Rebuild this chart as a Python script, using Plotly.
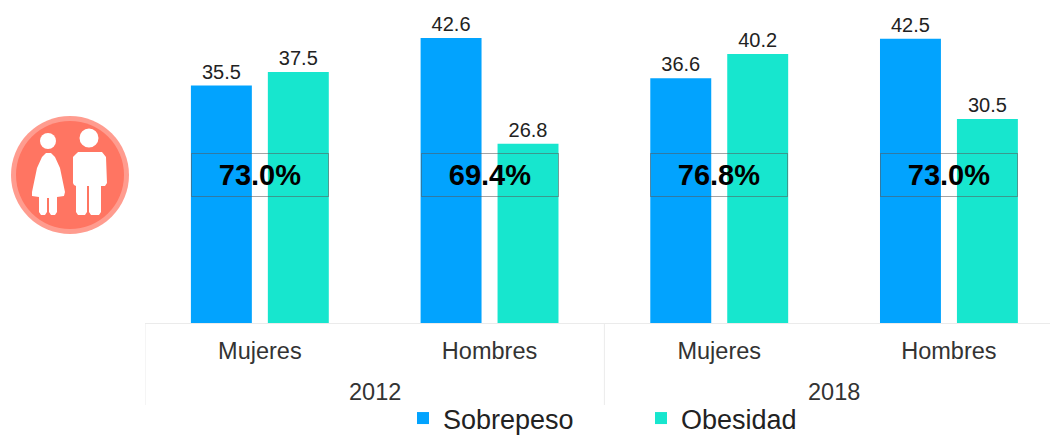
import plotly.graph_objects as go

W, H = 1050, 436

years = ["2012", "2012", "2018", "2018"]
sexes = ["Mujeres", "Hombres", "Mujeres", "Hombres"]
sobrepeso = [35.5, 42.6, 36.6, 42.5]
obesidad = [37.5, 26.8, 40.2, 30.5]
combined = ["73.0%", "69.4%", "76.8%", "73.0%"]

BLUE = "#02A3FE"
TEAL = "#17E6CE"
FONT = "Liberation Sans"
RULE = "#EBEBEB"


def px(x):
    return x / W


def py(y):
    return 1 - y / H


def path(points):
    return "M" + "L".join(f"{px(x):.5f},{py(y):.5f}" for x, y in points) + "Z"


def disc(cx, cy, r, color):
    return dict(type="circle", xref="paper", yref="paper", layer="above", line_width=0,
                fillcolor=color, x0=px(cx - r), x1=px(cx + r), y0=py(cy + r), y1=py(cy - r))


def outline(points, color="white"):
    return dict(type="path", xref="paper", yref="paper", layer="above", line_width=0,
                fillcolor=color, path=path(points))


def divider(position):
    return dict(type="line", xref="x", yref="paper", x0=position, x1=position,
                y0=py(405), y1=py(323), line=dict(color=RULE, width=1))


# Pictogram of a girl and a boy on a coral badge
girl = [(42, 157), (46, 153), (51, 153), (55, 157), (60, 168), (65, 192), (64, 196),
        (57, 197), (57, 212), (55, 215), (51, 215), (49, 212), (49, 198), (47, 198),
        (47, 212), (45, 215), (41, 215), (39, 212), (39, 197), (32, 196), (32, 192),
        (37, 168)]
boy = [(78, 152), (102, 152), (106, 157), (107, 183), (105, 186), (101, 186), (101, 212),
       (99, 215), (91, 215), (89, 212), (89, 186), (87, 186), (87, 212), (85, 215),
       (78, 215), (76, 212), (76, 186), (74, 185), (73, 183), (73, 157)]
icon = [
    disc(70, 175, 59, "#FF9C8F"),
    disc(70, 175, 54, "#FF7562"),
    disc(48, 141, 8, "white"),
    disc(89, 138, 9.5, "white"),
    outline(girl),
    outline(boy),
]

positions = list(range(len(sexes)))
fig = go.Figure()
for name, values, color in [("Sobrepeso", sobrepeso, BLUE), ("Obesidad", obesidad, TEAL)]:
    fig.add_bar(x=positions, y=values, name=name, marker_color=color, marker_line_width=0,
                text=[f"{v:.1f}" for v in values], textposition="outside", cliponaxis=False,
                textfont=dict(size=20, color="#222222", family=FONT))

# Combined prevalence boxes across each pair of bars
annotations = [
    dict(x=i, y=22.1, xref="x", yref="y", text=f"<b>{label}</b>", showarrow=False,
         width=136, height=42, borderwidth=1, bordercolor="rgba(90,90,90,0.55)", borderpad=0,
         font=dict(size=29, color="#000000", family=FONT))
    for i, label in enumerate(combined)
]
# Year captions centred under each pair of categories
for year in sorted(set(years)):
    members = [i for i, y in enumerate(years) if y == year]
    annotations.append(
        dict(x=sum(members) / len(members), y=py(392), xref="x", yref="paper", text=year,
             showarrow=False, yanchor="middle", font=dict(size=23.5, color="#333333", family=FONT))
    )

fig.update_layout(
    width=W, height=H, margin=dict(l=0, r=0, t=0, b=0, autoexpand=False),
    paper_bgcolor="white", plot_bgcolor="white",
    barmode="group", bargap=0.33, bargroupgap=0.208,
    font=dict(family=FONT, color="#333333"),
    shapes=icon + [divider(-0.5), divider(1.5)],
    annotations=annotations,
    showlegend=True,
    legend=dict(orientation="h", x=px(403), y=py(394), xanchor="left", yanchor="top",
                entrywidth=193, entrywidthmode="pixels", traceorder="normal",
                font=dict(size=27, color="#222222", family=FONT),
                bgcolor="rgba(0,0,0,0)"),
    xaxis=dict(domain=[px(145), 1], range=[-0.5, 3.44], showline=True, linecolor=RULE,
               linewidth=1, ticks="outside", ticklen=7, tickcolor="rgba(0,0,0,0)",
               showgrid=False, tickvals=positions, ticktext=sexes,
               tickfont=dict(size=23.5, color="#333333", family=FONT)),
    yaxis=dict(domain=[py(323), 1], range=[0, 323 / 6.69], visible=False, showgrid=False),
)

fig.write_html("out.html")
